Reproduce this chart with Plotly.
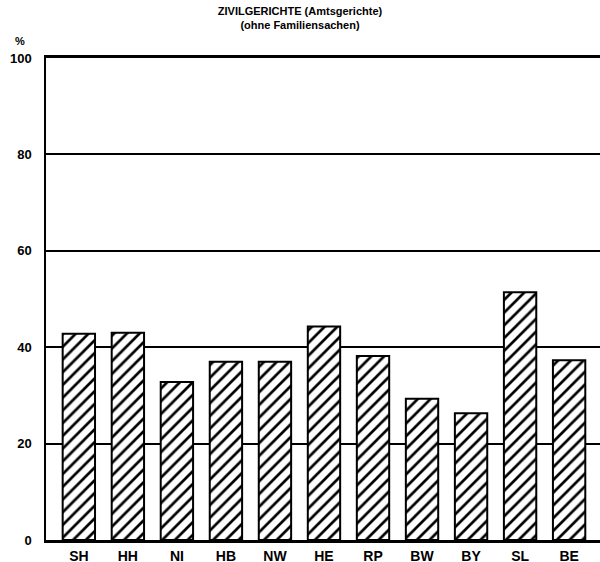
import plotly.graph_objects as go

laender = ["SH", "HH", "NI", "HB", "NW", "HE", "RP", "BW", "BY", "SL", "BE"]
anteil = [42.8, 43.0, 32.8, 37.0, 37.0, 44.3, 38.2, 29.3, 26.3, 51.4, 37.3]
y_ticks = [0, 20, 40, 60, 80, 100]

FONT = "Liberation Sans, Arial, Helvetica, sans-serif"

fig = go.Figure()
fig.add_trace(go.Bar(
    x=laender,
    y=anteil,
    width=0.66,
    marker=dict(
        color="white",
        line=dict(color="black", width=2),
        pattern=dict(shape="/", fgcolor="black", bgcolor="white", size=9,
                     solidity=0.3, fgopacity=1),
    ),
))

fig.update_layout(
    width=600, height=562,
    margin=dict(l=46, r=0, t=58, b=22, autoexpand=False),
    paper_bgcolor="white", plot_bgcolor="white",
    showlegend=False,
    title=dict(
        text="ZIVILGERICHTE (Amtsgerichte)<br>(ohne Familiensachen)",
        x=0.5, xanchor="center", y=0.973, yanchor="top",
        font=dict(family=FONT, size=11, color="black", weight=700),
    ),
    annotations=[dict(
        text="%", xref="paper", yref="paper", x=-0.035, y=1.018,
        xanchor="right", yanchor="bottom", showarrow=False,
        font=dict(family=FONT, size=11, color="black", weight=700),
    )],
)

fig.update_xaxes(
    range=[-0.67, 10.63], automargin=False,
    showline=True, linecolor="black", linewidth=2.5, mirror=True,
    showgrid=False, ticks="",
    tickfont=dict(family=FONT, size=14, color="black", weight=700),
    ticklabelstandoff=1,
)
fig.update_yaxes(
    range=[0, 100], tickvals=y_ticks, automargin=False,
    showline=True, linecolor="black", linewidth=1.5,
    showgrid=True, gridcolor="black", gridwidth=1.5,
    zeroline=False, ticks="",
    tickfont=dict(family=FONT, size=13, color="black", weight=700),
    ticklabelstandoff=10,
)

fig.write_html(
    "out.html",
    config={"displayModeBar": False},
    post_script="document.body.style.margin='0';document.body.style.overflow='hidden';",
)
